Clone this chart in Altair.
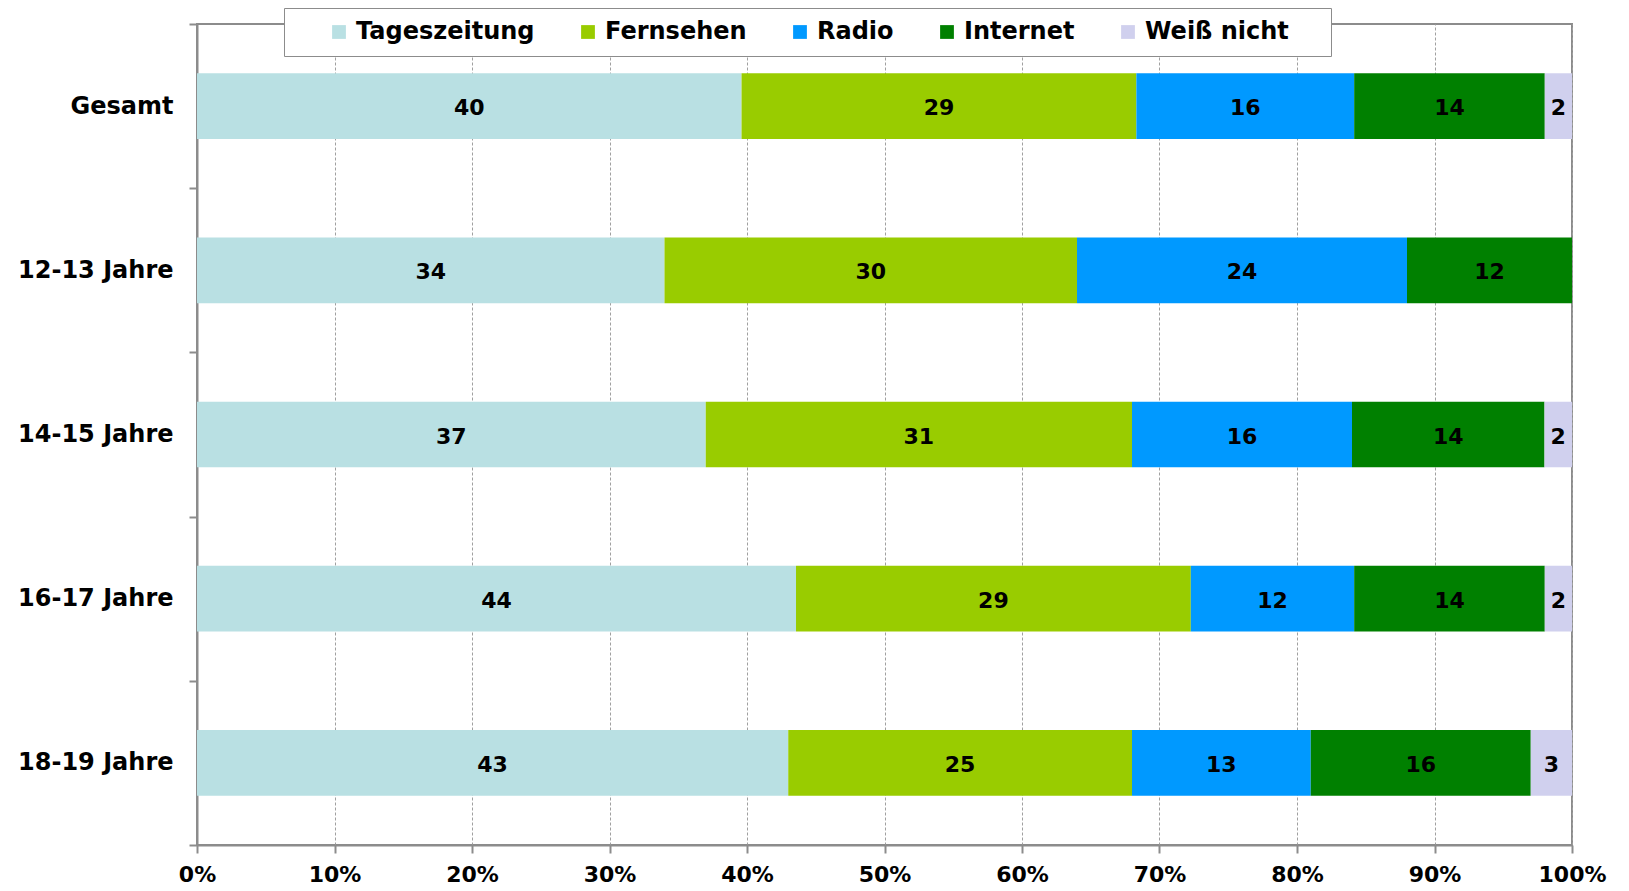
import altair as alt
import pandas as pd

categories = ["Gesamt", "12-13 Jahre", "14-15 Jahre", "16-17 Jahre", "18-19 Jahre"]
series = ["Tageszeitung", "Fernsehen", "Radio", "Internet", "Weiß nicht"]
colors = ["#B9E0E3", "#99CC00", "#0099FF", "#008000", "#D0D0EE"]

tageszeitung = [40, 34, 37, 44, 43]
fernsehen = [29, 30, 31, 29, 25]
radio = [16, 24, 16, 12, 13]
internet = [14, 12, 14, 14, 16]
weiss_nicht = [2, 0, 2, 2, 3]

values_by_series = [tageszeitung, fernsehen, radio, internet, weiss_nicht]

rows = []
for ci, cat in enumerate(categories):
    vals = [s[ci] for s in values_by_series]
    total = sum(vals)
    cum = 0
    for si, name in enumerate(series):
        v = vals[si]
        start = cum / total
        cum += v
        end = cum / total
        rows.append({
            "Gruppe": cat,
            "Medium": name,
            "order": si,
            "Wert": v,
            "start": start,
            "end": end,
            "mid": (start + end) / 2,
            "label": str(v) if v > 0 else "",
        })
df = pd.DataFrame(rows)

FONT = "DejaVu Sans"
GRAY = "#8C8C8C"

y_scale = alt.Scale(paddingInner=0, paddingOuter=0)

y_enc = alt.Y(
    "Gruppe:N",
    sort=categories,
    title=None,
    scale=y_scale,
    axis=alt.Axis(
        tickBand="extent",
        labelFont=FONT,
        labelFontSize=24,
        labelFontWeight="bold",
        labelColor="#000000",
        labelPadding=16,
        tickSize=8,
        tickColor=GRAY,
        tickWidth=2,
        domainColor=GRAY,
        domainWidth=2,
        grid=False,
    ),
)

x_scale = alt.Scale(domain=[0, 1], nice=False, zero=True)

bars = alt.Chart(df).mark_bar(strokeWidth=0, height=alt.RelativeBandSize(0.4)).encode(
    x=alt.X(
        "start:Q",
        scale=x_scale,
        title=None,
        axis=alt.Axis(
            values=[i / 10 for i in range(11)],
            format=".0%",
            labelFont=FONT,
            labelFontSize=22,
            labelFontWeight="bold",
            labelColor="#000000",
            labelPadding=11,
            tickSize=8,
            tickColor=GRAY,
            tickWidth=2,
            domainColor=GRAY,
            domainWidth=2,
            grid=True,
            gridColor="#A0A0A0",
            gridDash=[3, 2],
            gridWidth=1,
            labelFlush=False,
        ),
    ),
    x2="end:Q",
    y=y_enc,
    color=alt.Color(
        "Medium:N",
        sort=series,
        scale=alt.Scale(domain=series, range=colors),
        legend=alt.Legend(
            title=" ",
            titleOrient="right",
            titlePadding=30,
            titleFontSize=24,
            orient="none",
            legendX=87,
            legendY=-16,
            direction="horizontal",
            columns=5,
            padding=12,
            strokeColor=GRAY,
            fillColor="#FFFFFF",
            symbolType="square",
            symbolSize=190,
            symbolStrokeWidth=0,
            symbolOffset=31,
            labelOffset=5,
            columnPadding=10,
            labelFont=FONT,
            labelFontSize=24,
            labelFontWeight="bold",
            labelColor="#000000",
            labelLimit=400,
        ),
    ),
    order=alt.Order("order:Q"),
)

labels = alt.Chart(df).mark_text(
    font=FONT, fontSize=22, fontWeight="bold", color="#000000",
    align="center", baseline="middle", dy=2,
).encode(
    x=alt.X("mid:Q", scale=x_scale),
    y=alt.Y("Gruppe:N", sort=categories, scale=y_scale),
    text="label:N",
)

chart = alt.layer(bars, labels).properties(
    width=1375,
    height=821,
    autosize=alt.AutoSizeParams(type="none"),
    padding={"left": 189, "top": 16, "right": 42, "bottom": 46},
    background="#FFFFFF",
).configure_view(
    stroke=GRAY,
    strokeWidth=2,
)

chart.save("out.html", embed_options={"renderer": "svg", "actions": False})
